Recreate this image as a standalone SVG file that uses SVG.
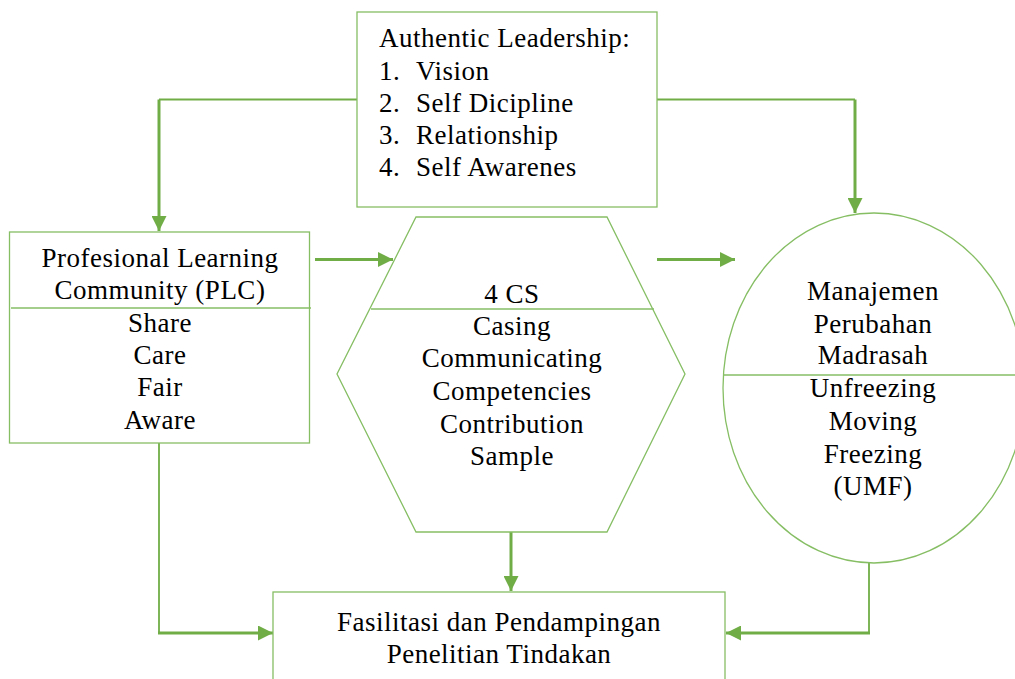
<svg xmlns="http://www.w3.org/2000/svg" width="1015" height="679" viewBox="0 0 1015 679">
<style>
.shape{fill:#fff;stroke:#86BE64;stroke-width:1.3}
.div{stroke:#86BE64;stroke-width:1.3;fill:none}
.thin{stroke:#70AD47;stroke-width:1.8;fill:none}
.thick{stroke:#70AD47;stroke-width:3;fill:none}
text{font-family:"Liberation Serif","Times New Roman",serif;font-size:27px;letter-spacing:0.5px;fill:#000}
.c{text-anchor:middle}
</style>
<defs>
<marker id="arr" viewBox="0 0 10 10" refX="10" refY="5" markerWidth="15" markerHeight="15" markerUnits="userSpaceOnUse" orient="auto">
<path d="M0,0 L10,5 L0,10 z" fill="#70AD47"/>
</marker>
</defs>
<g id="connectors">
<path class="thin" d="M357,99.5 H159"/>
<path class="thick" d="M159,99.5 V231" marker-end="url(#arr)"/>
<path class="thin" d="M657,99.5 H855"/>
<path class="thick" d="M855,99.5 V213" marker-end="url(#arr)"/>
<path class="thick" d="M315,259.5 H393" marker-end="url(#arr)"/>
<path class="thick" d="M657,259.5 H735" marker-end="url(#arr)"/>
<path class="thin" d="M159,443 V633"/>
<path class="thick" d="M158,633 H273" marker-end="url(#arr)"/>
<path class="thick" d="M511,532 V591" marker-end="url(#arr)"/>
<path class="thin" d="M869,563 V633"/>
<path class="thick" d="M870,633 H726" marker-end="url(#arr)"/>
</g>
<g id="authentic">
<rect class="shape" x="357" y="12" width="300" height="195"/>
<text x="379" y="47">Authentic Leadership:</text>
<text x="379" y="79.5">1.</text><text x="416" y="79.5">Vision</text>
<text x="379" y="112">2.</text><text x="416" y="112">Self Dicipline</text>
<text x="379" y="144">3.</text><text x="416" y="144">Relationship</text>
<text x="379" y="176">4.</text><text x="416" y="176">Self Awarenes</text>
</g>
<g id="plc">
<rect class="shape" x="9.5" y="232" width="300" height="211"/>
<path class="div" d="M11,308 H311"/>
<text class="c" x="160" y="267">Profesional Learning</text>
<text class="c" x="160" y="299">Community (PLC)</text>
<text class="c" x="160" y="332">Share</text>
<text class="c" x="160" y="364">Care</text>
<text class="c" x="160" y="396">Fair</text>
<text class="c" x="160" y="429">Aware</text>
</g>
<g id="fourcs">
<polygon class="shape" points="416,217 607,217 685,374 607,532 416,532 337,374"/>
<path class="div" d="M371,309 H654"/>
<text class="c" x="512" y="303">4 CS</text>
<text class="c" x="512" y="335">Casing</text>
<text class="c" x="512" y="367">Communicating</text>
<text class="c" x="512" y="400">Competencies</text>
<text class="c" x="512" y="433">Contribution</text>
<text class="c" x="512" y="465">Sample</text>
</g>
<g id="umf">
<ellipse class="shape" cx="874" cy="388" rx="151" ry="175"/>
<path class="div" d="M723,375 H1015"/>
<text class="c" x="873" y="300">Manajemen</text>
<text class="c" x="873" y="333">Perubahan</text>
<text class="c" x="873" y="364">Madrasah</text>
<text class="c" x="873" y="397">Unfreezing</text>
<text class="c" x="873" y="430">Moving</text>
<text class="c" x="873" y="463">Freezing</text>
<text class="c" x="873" y="495">(UMF)</text>
</g>
<g id="fasilitasi">
<rect class="shape" x="273" y="592" width="452" height="100"/>
<text class="c" x="499" y="631">Fasilitasi dan Pendampingan</text>
<text class="c" x="499" y="663">Penelitian Tindakan</text>
</g>
</svg>
